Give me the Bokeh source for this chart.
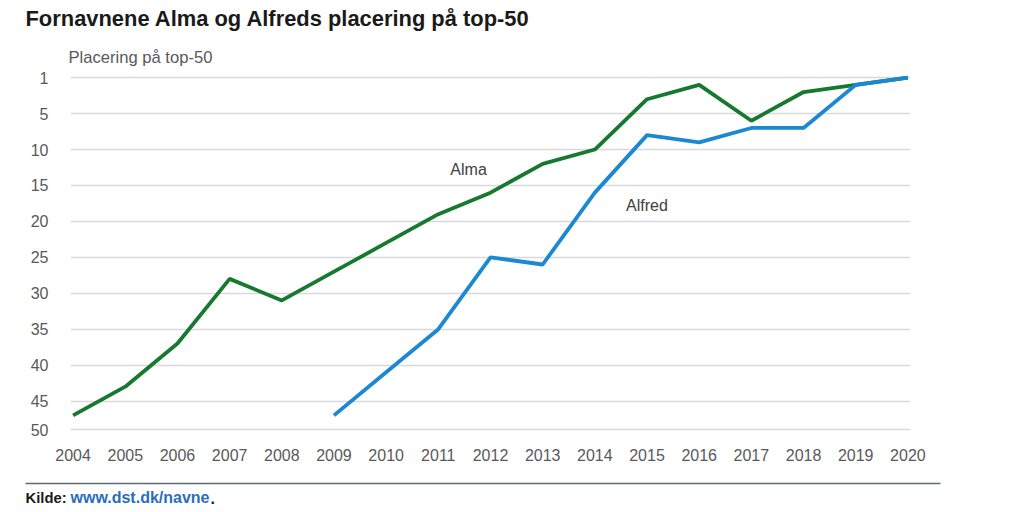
from bokeh.plotting import figure
from bokeh.models import Range1d, FixedTicker, Label
from bokeh.layouts import column
from bokeh.embed import file_html
from bokeh.resources import INLINE

years = list(range(2004, 2021))
alma = [48, 44, 38, 29, 32, 28, 24, 20, 17, 13, 11, 4, 2, 7, 3, 2, 1]
alfred_years = list(range(2009, 2021))
alfred = [48, 42, 36, 26, 27, 17, 9, 10, 8, 8, 2, 1]

tick_pos = [1, 6, 11, 16, 21, 26, 31, 36, 41, 46, 50]
tick_lab = ["1", "5", "10", "15", "20", "25", "30", "35", "40", "45", "50"]

title_txt = "Fornavnene Alma og Alfreds placering på top-50"
ylab_txt = "Placering på top-50"
src_lead = "Kilde:"
src_link = "www.dst.dk/navne"

FONT = "Liberation Sans"
GRAY = "#595959"
GREEN = "#16792f"
BLUE = "#1a88d2"

W = 1024
HEAD_H = 66
FOOT_H = 45
MAIN_H = 512 - HEAD_H - FOOT_H


def panel(h):
    f = figure(width=W, height=h, output_backend="svg", toolbar_location=None,
               x_range=Range1d(0, W), y_range=Range1d(h, 0),
               x_axis_type=None, y_axis_type=None,
               min_border=0, min_border_left=0, min_border_right=0,
               min_border_top=0, min_border_bottom=0, frame_align=False)
    f.outline_line_color = None
    f.grid.visible = False
    f.background_fill_color = "white"
    f.border_fill_color = "white"
    return f


def lab(f, x, y, text, size, color, bold=False, align="left"):
    f.add_layout(Label(x=x, y=y, text=text, text_align=align, text_baseline="middle",
                       text_font=FONT, text_font_size=size, text_color=color,
                       text_font_style="bold" if bold else "normal"))


# header
head = panel(HEAD_H)
lab(head, 25, 18, title_txt, "21.9px", "#1a1a1a", True)
lab(head, 68, 57, ylab_txt, "16.6px", GRAY)

# main chart
p = figure(width=W, height=MAIN_H, output_backend="svg", toolbar_location=None,
           x_range=Range1d(2003.95, 2020.05), y_range=Range1d(50.1, 0.7),
           min_border_left=70, min_border_right=114, min_border_top=9, min_border_bottom=37,
           frame_align=False)
p.outline_line_color = None
p.background_fill_color = "white"
p.border_fill_color = "white"

p.xaxis.ticker = FixedTicker(ticks=years)
p.yaxis.ticker = FixedTicker(ticks=tick_pos)
p.yaxis.major_label_overrides = {t: l for t, l in zip(tick_pos, tick_lab)}
for ax in (p.xaxis, p.yaxis):
    ax.axis_line_color = None
    ax.major_tick_line_color = None
    ax.minor_tick_line_color = None
    ax.major_label_text_font = FONT
    ax.major_label_text_font_size = "16px"
    ax.major_label_text_color = GRAY
p.yaxis.major_label_standoff = 16
p.xaxis.major_label_standoff = 12
p.xgrid.grid_line_color = None
p.ygrid.grid_line_color = "#d9d9d9"
p.ygrid.grid_line_width = 1.5

p.line(years, alma, line_color=GREEN, line_width=3.8)
p.line(alfred_years, alfred, line_color=BLUE, line_width=3.8)

p.add_layout(Label(x=2011.58, y=13.8, text="Alma", text_align="center", text_baseline="middle",
                   text_font=FONT, text_font_size="16px", text_color="#404040"))
p.add_layout(Label(x=2015.0, y=18.8, text="Alfred", text_align="center", text_baseline="middle",
                   text_font=FONT, text_font_size="16px", text_color="#404040"))

# footer
foot = panel(FOOT_H)
foot.segment(x0=[25], y0=[16], x1=[940], y1=[16], line_color="#5f6b70", line_width=1.5)
lab(foot, 25, 30, src_lead, "14.8px", "#1a1a1a", True)
lab(foot, 70, 30, src_link, "16px", "#2a6ebb", True)
lab(foot, 210, 30, ".", "16px", "#1a1a1a", True)

layout = column(head, p, foot, spacing=0)
open("out.html", "w").write(file_html(layout, INLINE))
